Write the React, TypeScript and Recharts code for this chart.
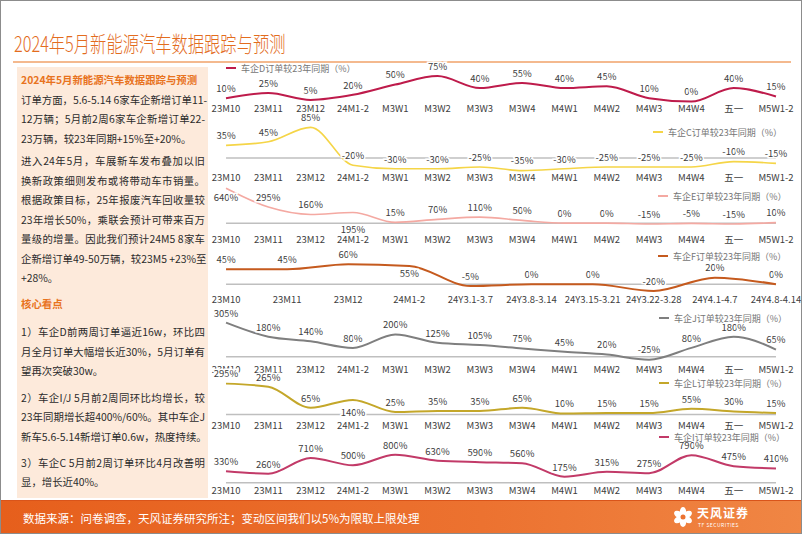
import React from 'react';
import { LineChart, Line, XAxis, YAxis, ReferenceLine, LabelList } from 'recharts';

const FONT = "'Noto Sans CJK SC', 'Noto Sans', sans-serif";

const weekCats = ['23M10', '23M11', '23M12', '24M1-2', 'M3W1', 'M3W2', 'M3W3', 'M3W4', 'M4W1', 'M4W2', 'M4W3', 'M4W4', '五一', 'M5W1-2'];
const fCats = ['23M10', '23M11', '23M12', '24M1-2', '24Y3.1-3.7', '24Y3.8-3.14', '24Y3.15-3.21', '24Y3.22-3.28', '24Y4.1-4.7', '24Y4.8-4.14'];

const dValues = [10, 25, 5, 20, 50, 75, 40, 55, 40, 45, 10, 0, 40, 15];
const cValues = [35, 45, 85, -20, -30, -30, -25, -35, -30, -25, -25, -25, -10, -15];
const eValues = [640, 295, 160, 195, 15, 70, 110, 50, 0, 0, -15, -5, -15, 10];
const fValues = [45, 45, 60, 55, -5, 0, 0, -20, 20, 0];
const jValues = [305, 180, 140, 80, 200, 125, 105, 75, 45, 20, -25, 80, 180, 65];
const lValues = [295, 265, 65, 140, 25, 35, 35, 65, 10, 15, 15, 55, 30, 15];
const iValues = [330, 260, 710, 500, 800, 630, 590, 560, 175, 315, 275, 790, 475, 410];

const seriesNames = ['车企D订单较23年同期（%）', '车企C订单较23年同期（%）', '车企E订单较23年同期（%）', '车企F订单较23年同期（%）', '车企J订单较23年同期（%）', '车企L订单较23年同期（%）', '车企I订单较23年同期（%）'];

type Cfg = {
  name: string; cats: string[]; values: number[]; color: string; sw: number;
  zeroY: number; pxPer: number; max: number; labelY: number; zero: boolean;
  shifts?: Record<number, number>; legend: { x: number; y: number };
};

const panels: Cfg[] = [
  { name: seriesNames[0], cats: weekCats, values: dValues, color: '#BE1B4B', sw: 2, zeroY: 101, pxPer: 0.34, max: 90, labelY: 108, zero: false, legend: { x: 225, y: 67 } },
  { name: seriesNames[1], cats: weekCats, values: cValues, color: '#F5D547', sw: 1.6, zeroY: 157, pxPer: 0.36, max: 100, labelY: 177, zero: true, legend: { x: 652, y: 131 } },
  { name: seriesNames[2], cats: weekCats, values: eValues, color: '#F4A9A2', sw: 1.6, zeroY: 222, pxPer: 0.0545, max: 700, labelY: 238, zero: true, shifts: { 0: 9, 3: 17 }, legend: { x: 657, y: 195 } },
  { name: seriesNames[3], cats: fCats, values: fValues, color: '#C55A1E', sw: 2, zeroY: 283, pxPer: 0.333, max: 70, labelY: 298, zero: true, shifts: { 3: 8 }, legend: { x: 657, y: 255 } },
  { name: seriesNames[4], cats: weekCats, values: jValues, color: '#7F7F7F', sw: 2, zeroY: 356, pxPer: 0.112, max: 320, labelY: 369, zero: true, legend: { x: 658, y: 317 } },
  { name: seriesNames[5], cats: weekCats, values: lValues, color: '#C4A72A', sw: 2, zeroY: 414, pxPer: 0.105, max: 320, labelY: 425, zero: true, shifts: { 3: 13 }, legend: { x: 658, y: 382 } },
  { name: seriesNames[6], cats: weekCats, values: iValues, color: '#C23A68', sw: 2, zeroY: 482, pxPer: 0.035, max: 880, labelY: 490, zero: true, legend: { x: 658, y: 436 } },
];

const makeLabel = (shifts?: Record<number, number>) => (props: any) => {
  const { x, y, value, index } = props;
  const dy = shifts && shifts[index] !== undefined ? shifts[index] : -9.5;
  return (
    <text x={x} y={y + dy} dy="0.35em" textAnchor="middle" fontSize={9.5} fill="#404040"
      stroke="#ffffff" strokeWidth={3} paintOrder="stroke" fontFamily={FONT}>
      {value}%
    </text>
  );
};

function Panel({ cfg }: { cfg: Cfg }) {
  const T = 14, H = 20, L = 25, R = 25;
  const axisY = cfg.labelY - 5.3;
  const min = -(axisY - cfg.zeroY) / cfg.pxPer;
  const top = cfg.zeroY - cfg.max * cfg.pxPer - T;
  const height = (cfg.max - min) * cfg.pxPer + T + H;
  const data = cfg.cats.map((c, i) => ({ c, v: cfg.values[i] }));
  return (
    <div style={{ position: 'absolute', left: 200, top, width: 601, height }}>
      <LineChart width={601} height={height} data={data} margin={{ top: T, right: R + 1, left: L, bottom: 0 }}>
        <XAxis dataKey="c" height={H} axisLine={false} tickLine={false} tickSize={0} tickMargin={2} interval={0}
          tick={{ fontSize: 9.5, fill: '#404040', fontFamily: FONT }} />
        <YAxis hide type="number" domain={[min, cfg.max]} allowDataOverflow />
        {cfg.zero && <ReferenceLine y={0} stroke="#BFBFBF" strokeWidth={1.5} />}
        <Line type="monotone" dataKey="v" stroke={cfg.color} strokeWidth={cfg.sw} dot={false} activeDot={false} isAnimationActive={false}>
          <LabelList dataKey="v" content={makeLabel(cfg.shifts)} />
        </Line>
      </LineChart>
    </div>
  );
}

function Legend({ cfg }: { cfg: Cfg }) {
  return (
    <div style={{ position: 'absolute', left: cfg.legend.x, top: cfg.legend.y - 7, height: 14, display: 'flex', alignItems: 'center', fontSize: 9, color: '#767676', whiteSpace: 'nowrap' }}>
      <span style={{ display: 'inline-block', width: 10, height: 2, background: cfg.color, marginRight: 5 }} />
      {cfg.name}
    </div>
  );
}

const leftLines: { t: string; y: number; kind: 'title' | 'full' | 'last' }[] = [
  { t: '2024年5月新能源汽车数据跟踪与预测', y: 79, kind: 'title' },
  { t: '订单方面，5.6-5.14 6家车企新增订单11-', y: 99, kind: 'full' },
  { t: '12万辆；5月前2周6家车企新增订单22-', y: 118, kind: 'full' },
  { t: '23万辆，较23年同期+15%至+20%。', y: 138, kind: 'last' },
  { t: '进入24年5月，车展新车发布叠加以旧', y: 160, kind: 'full' },
  { t: '换新政策细则发布或将带动车市销量。', y: 180, kind: 'full' },
  { t: '根据政策目标，25年报废汽车回收量较', y: 199, kind: 'full' },
  { t: '23年增长50%，乘联会预计可带来百万', y: 219, kind: 'full' },
  { t: '量级的增量。因此我们预计24M5  8家车', y: 238, kind: 'full' },
  { t: '企新增订单49-50万辆，较23M5  +23%至', y: 258, kind: 'full' },
  { t: '+28%。', y: 277, kind: 'last' },
  { t: '核心看点', y: 303, kind: 'title' },
  { t: '1）车企D前两周订单逼近16w，环比四', y: 331, kind: 'full' },
  { t: '月全月订单大幅增长近30%，5月订单有', y: 351, kind: 'full' },
  { t: '望再次突破30w。', y: 370, kind: 'last' },
  { t: '2）车企I/J  5月前2周同环比均增长，较', y: 397, kind: 'full' },
  { t: '23年同期增长超400%/60%。其中车企J', y: 416, kind: 'full' },
  { t: '新车5.6-5.14新增订单0.6w，热度持续。', y: 436, kind: 'full' },
  { t: '3）车企C  5月前2周订单环比4月改善明', y: 462, kind: 'full' },
  { t: '显，增长近40%。', y: 481, kind: 'last' },
];

export default function App() {
  return (
    <div style={{ position: 'absolute', left: 0, top: 0, width: 802, height: 534, boxSizing: 'border-box', border: '1px solid #8c8c8c', background: '#ffffff', fontFamily: FONT, overflow: 'hidden' }}>
      <div style={{ position: 'absolute', left: 13, top: 26, fontSize: 22, color: '#E36C1E', whiteSpace: 'nowrap', transform: 'scaleX(0.74)', transformOrigin: 'left center', fontWeight: 300, lineHeight: '30px' }}>
        2024年5月新能源汽车数据跟踪与预测
      </div>
      <div style={{ position: 'absolute', left: 12, top: 60, width: 778, height: 1.5, background: '#F4B98E' }} />
      <div style={{ position: 'absolute', left: 16, top: 66, width: 191, height: 431, background: '#FDEADB' }} />
      {leftLines.map((l, i) => (
        <div key={i} style={{
          position: 'absolute', left: 20, top: l.y - 8, width: 184, height: 16, lineHeight: '16px',
          fontSize: 10.4, whiteSpace: 'nowrap', color: l.kind === 'title' ? '#E8731E' : '#2b2b2b',
          fontWeight: l.kind === 'title' ? 700 : 400,
          textAlign: l.kind === 'full' ? 'justify' : 'left', textAlignLast: l.kind === 'full' ? 'justify' : 'left',
        } as React.CSSProperties}>{l.t}</div>
      ))}
      {panels.map((p, i) => <Panel key={i} cfg={p} />)}
      {panels.map((p, i) => <Legend key={'l' + i} cfg={p} />)}
      <div style={{ position: 'absolute', left: 0, top: 499, width: 802, height: 35, background: 'linear-gradient(90deg, #E65F1C 0%, #EC7230 60%, #F08644 100%)', borderTop: '1px solid #D9541A', boxSizing: 'border-box' }} />
      <div style={{ position: 'absolute', left: 22, top: 509, fontSize: 11.5, color: '#ffffff', whiteSpace: 'nowrap', lineHeight: '16px' }}>
        数据来源：问卷调查，天风证券研究所注；变动区间我们以5%为限取上限处理
      </div>
      <svg style={{ position: 'absolute', left: 670, top: 503 }} width={24} height={28} viewBox="0 0 24 28">
        {[0, 60, 120, 180, 240, 300].map((a) => (
          <ellipse key={a} cx={12} cy={8} rx={3.2} ry={5} fill="#ffffff" transform={`rotate(${a} 12 13)`} />
        ))}
        <circle cx={12} cy={13} r={2.5} fill="#EC7230" />
      </svg>
      <div style={{ position: 'absolute', left: 696, top: 505, fontSize: 12, fontWeight: 700, color: '#ffffff', whiteSpace: 'nowrap', lineHeight: '14px', letterSpacing: 1 }}>天风证券</div>
      <div style={{ position: 'absolute', left: 697, top: 520, fontSize: 5, color: '#ffffff', whiteSpace: 'nowrap', lineHeight: '7px', letterSpacing: 0.5 }}>TF SECURITIES</div>
    </div>
  );
}
